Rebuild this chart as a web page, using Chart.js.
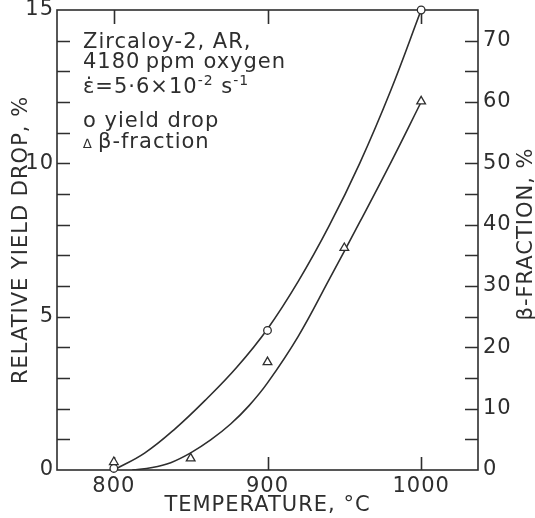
<!DOCTYPE html>
<html>
<head>
<meta charset="utf-8">
<script src="https://cdn.jsdelivr.net/npm/chart.js@4.4.0/dist/chart.umd.min.js"></script>
<style>
  html, body { margin: 0; padding: 0; background: #fff; }
</style>
</head>
<body>
<canvas id="graficoYield" width="535" height="518"></canvas>
<script>
// measured points
const tempYield = [800, 900, 1000];
const yieldDrop = [0.05, 4.55, 15.0];
const tempBeta = [800, 850, 900, 950, 1000];
const betaFraction = [1.3, 1.9, 17.6, 36.2, 60.1];

// smooth curves drawn through the data
const curveYieldT = [800, 820, 840, 860, 880, 900, 920, 940, 960, 980, 1000];
const curveYield = [0, 0.55, 1.35, 2.3, 3.35, 4.6, 6.15, 7.95, 10.0, 12.35, 15.0];
const curveBetaT = [812, 825, 837, 850, 863, 876, 888, 900, 920, 940, 960, 980, 1000];
const curveBeta = [0, 0.4, 1.2, 2.8, 4.9, 7.5, 10.5, 14.2, 21.8, 31.0, 40.4, 50.0, 60.0];

const xTicks = [800, 900, 1000];
const yTicks = [0, 5, 10, 15];
const y1Ticks = [0, 10, 20, 30, 40, 50, 60, 70];

const ink = '#2e2e2e';
const fam = "'DejaVu Sans', sans-serif";

const pts = (xs, ys) => xs.map((x, i) => ({ x: x, y: ys[i] }));
const fixTicks = vals => scale => { scale.ticks = vals.map(v => ({ value: v })); };
const plain = v => String(v);

// frame and inward tick marks, drawn under the data
const marco = {
  id: 'marco',
  beforeLayout(chart) { chart.ctx.letterSpacing = '1px'; },
  beforeDraw(chart) { chart.ctx.letterSpacing = '1px'; },
  beforeDatasetsDraw(chart) {
    const { ctx, chartArea: a, scales } = chart;
    ctx.save();
    ctx.strokeStyle = ink;
    ctx.lineWidth = 1.6;
    ctx.strokeRect(a.left, a.top, a.right - a.left, a.bottom - a.top);
    ctx.beginPath();
    for (let v = 1; v < 15; v++) {
      const y = Math.round(scales.y.getPixelForValue(v)) + 0.5;
      ctx.moveTo(a.left, y); ctx.lineTo(a.left + 13, y);
    }
    for (let v = 5; v < 75; v += 5) {
      const y = Math.round(scales.y1.getPixelForValue(v)) + 0.5;
      ctx.moveTo(a.right, y); ctx.lineTo(a.right - 13, y);
    }
    xTicks.forEach(v => {
      const x = Math.round(scales.x.getPixelForValue(v)) + 0.5;
      ctx.moveTo(x, a.bottom); ctx.lineTo(x, a.bottom - 13);
      ctx.moveTo(x, a.top); ctx.lineTo(x, a.top + 14);
    });
    ctx.stroke();
    ctx.restore();
  },
  afterDraw(chart) {
    const { ctx } = chart;
    ctx.save();
    ctx.fillStyle = ink;
    // right axis title, reading upwards
    ctx.font = '21px ' + fam;
    ctx.textAlign = 'center';
    ctx.textBaseline = 'middle';
    ctx.translate(527, 234);
    ctx.rotate(-Math.PI / 2);
    ctx.fillText('β-FRACTION, %', 0, 0);
    ctx.restore();

    // note block in the upper left corner
    ctx.save();
    ctx.fillStyle = ink;
    ctx.textAlign = 'left';
    ctx.textBaseline = 'alphabetic';
    ctx.font = '21px ' + fam;
    ctx.fillText('Zircaloy-2, AR,', 83, 48);
    ctx.fillText('4180\u2009ppm oxygen', 83, 68);
    let x = 83;
    const runs = [['ε̇=5·6×10', false], ['-2', true], [' s', false], ['-1', true]];
    runs.forEach(([t, sup]) => {
      ctx.font = (sup ? '14px ' : '21px ') + fam;
      ctx.fillText(t, x, sup ? 85 : 93);
      x += ctx.measureText(t).width;
    });
    ctx.font = '21px ' + fam;
    ctx.fillText('o yield drop', 83, 127);
    ctx.font = '13px ' + fam;
    ctx.fillText('∆', 83, 148);
    ctx.font = '21px ' + fam;
    ctx.fillText('β-fraction', 98, 148);
    ctx.restore();
  }
};

const ctx = document.getElementById('graficoYield').getContext('2d');
const grafico = new Chart(ctx, {
  type: 'scatter',
  data: {
    datasets: [
      {
        label: 'yield drop',
        data: pts(tempYield, yieldDrop),
        yAxisID: 'y',
        pointStyle: 'circle',
        pointRadius: 3.8,
        borderColor: ink,
        backgroundColor: '#fff',
        borderWidth: 1.3,
        clip: false
      },
      {
        label: 'β-fraction',
        data: pts(tempBeta, betaFraction),
        yAxisID: 'y1',
        pointStyle: 'triangle',
        pointRadius: 5,
        borderColor: ink,
        backgroundColor: '#fff',
        borderWidth: 1.3,
        clip: false
      },
      {
        type: 'line',
        data: pts(curveYieldT, curveYield),
        yAxisID: 'y',
        borderColor: ink,
        borderWidth: 1.6,
        pointRadius: 0,
        tension: 0.4,
        fill: false
      },
      {
        type: 'line',
        data: pts(curveBetaT, curveBeta),
        yAxisID: 'y1',
        borderColor: ink,
        borderWidth: 1.6,
        pointRadius: 0,
        tension: 0.4,
        fill: false
      }
    ]
  },
  options: {
    responsive: false,
    animation: false,
    devicePixelRatio: 1,
    layout: { padding: { top: 10, left: 0, right: 0, bottom: 0 } },
    plugins: { legend: { display: false }, tooltip: { enabled: false } },
    scales: {
      x: {
        type: 'linear',
        min: 763,
        max: 1037,
        afterBuildTicks: fixTicks(xTicks),
        afterFit: s => { s.height = 48; s.paddingLeft = 0; s.paddingRight = 0; },
        grid: { display: false, drawTicks: false },
        border: { display: false },
        ticks: { color: ink, font: { family: fam, size: 21 }, padding: 4, maxRotation: 0, callback: plain },
        title: {
          display: true,
          text: 'TEMPERATURE, °C',
          color: ink,
          font: { family: fam, size: 21 },
          padding: { top: 0, bottom: 0 }
        }
      },
      y: {
        type: 'linear',
        position: 'left',
        min: 0,
        max: 15,
        afterBuildTicks: fixTicks(yTicks),
        afterFit: s => { s.width = 57; s.paddingTop = 0; s.paddingBottom = 0; },
        grid: { display: false, drawTicks: false },
        border: { display: false },
        ticks: { color: ink, font: { family: fam, size: 21 }, padding: 3, callback: plain },
        title: {
          display: true,
          text: 'RELATIVE YIELD DROP, %',
          color: ink,
          font: { family: fam, size: 21 },
          padding: { top: 9, bottom: 0 }
        }
      },
      y1: {
        type: 'linear',
        position: 'right',
        min: 0,
        max: 75,
        afterBuildTicks: fixTicks(y1Ticks),
        afterFit: s => { s.width = 57; s.paddingTop = 0; s.paddingBottom = 0; },
        grid: { display: false, drawTicks: false },
        border: { display: false },
        ticks: { color: ink, font: { family: fam, size: 21 }, padding: 5, callback: plain }
      }
    }
  },
  plugins: [marco]
});
</script>
</body>
</html>
